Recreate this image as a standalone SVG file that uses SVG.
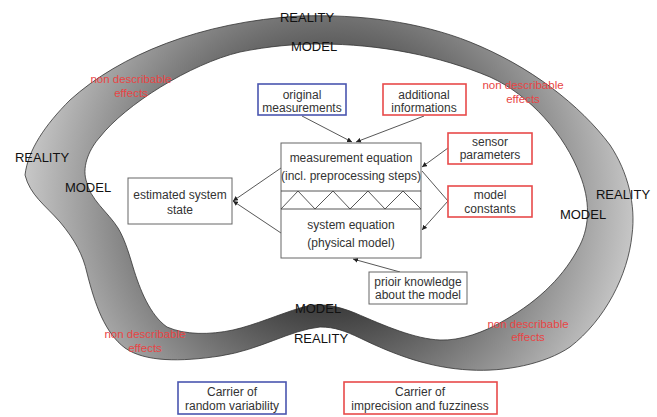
<svg xmlns="http://www.w3.org/2000/svg" width="657" height="417" viewBox="0 0 657 417">
  <style>
    text { font-family: "Liberation Sans", Arial, sans-serif; text-anchor: middle; }
    .lbl { font-size: 12px; fill: #333; }
    .big { font-size: 13px; fill: #111; }
    .red { font-size: 11.5px; fill: #e84545; }
    .box { fill: #fff; stroke: #666; stroke-width: 1; }
    .rbox { fill: #fff; stroke: #e84a4a; stroke-width: 1.6; }
    .bbox { fill: #fff; stroke: #4a56b0; stroke-width: 1.6; }
    .conn { stroke: #444; stroke-width: 0.9; fill: none; }
  </style>
  <defs>
    <radialGradient id="bandShade" gradientUnits="userSpaceOnUse" cx="330" cy="200" r="330">
      <stop offset="0.06" stop-color="#000"/>
      <stop offset="1" stop-color="#d8d8d8"/>
    </radialGradient>
    <marker id="head" markerWidth="5" markerHeight="5" refX="5" refY="2.5" orient="auto" markerUnits="userSpaceOnUse">
      <path d="M0,0 L5,2.5 L0,5 Z" fill="#222"/>
    </marker>
  </defs>

  <rect width="657" height="417" fill="#fff"/>

  <!-- band separating model from reality: outer and inner outlines, even-odd filled -->
  <g id="band">
    <path fill="url(#bandShade)" fill-rule="evenodd" stroke="#333" stroke-width="0.8"
      d="M300,16 C360,14 420,22 470,42 C530,66 580,105 610,145 C628,172 636,205 632,235 C628,275 605,320 570,347 C545,364 505,372 470,370 C430,368 395,355 360,338 C345,331 335,327 320,327 C290,330 260,350 220,356 C180,362 145,362 125,348 C105,333 95,305 87,273 C83,255 75,240 60,222 C45,205 30,195 25,175 C28,150 45,125 70,100 C120,55 200,22 300,16 Z
         M320,44 C380,44 440,56 490,77 C530,95 565,135 580,175 C590,200 590,225 580,245 C565,275 540,300 505,320 C485,332 460,341 440,340 C415,339 385,326 355,313 C335,305 318,302 300,308 C280,314 255,325 233,330 C210,335 185,335 167,327 C150,315 140,290 133,267 C128,250 124,238 118,228 C108,212 90,200 86,180 C82,165 90,148 100,137 C125,105 190,64 240,52 C270,46 295,44 320,44 Z"/>
  </g>

  <!-- band labels -->
  <g id="band-labels">
    <text class="big" x="307" y="22">REALITY</text>
    <text class="big" x="314" y="51">MODEL</text>
    <text class="big" x="42" y="162">REALITY</text>
    <text class="big" x="88" y="192">MODEL</text>
    <text class="big" x="623" y="199">REALITY</text>
    <text class="big" x="583" y="219">MODEL</text>
    <text class="big" x="318" y="313">MODEL</text>
    <text class="big" x="321" y="343">REALITY</text>
    <text class="red" x="131" y="83">non describable</text>
    <text class="red" x="131" y="97">effects</text>
    <text class="red" x="523" y="89">non describable</text>
    <text class="red" x="523" y="103">effects</text>
    <text class="red" x="145" y="338">non describable</text>
    <text class="red" x="145" y="352">effects</text>
    <text class="red" x="528" y="328">non describable</text>
    <text class="red" x="528" y="341">effects</text>
  </g>

  <!-- connectors -->
  <g id="connectors">
    <line class="conn" x1="302" y1="116" x2="352" y2="142" marker-end="url(#head)"/>
    <line class="conn" x1="424" y1="116" x2="356" y2="142" marker-end="url(#head)"/>
    <line class="conn" x1="448" y1="148" x2="422" y2="167" marker-end="url(#head)"/>
    <line class="conn" x1="448" y1="201" x2="422" y2="171"/>
    <line class="conn" x1="448" y1="201" x2="422" y2="230" marker-end="url(#head)"/>
    <line class="conn" x1="281" y1="168" x2="233" y2="201" marker-end="url(#head)"/>
    <line class="conn" x1="281" y1="233" x2="233" y2="201" marker-end="url(#head)"/>
    <line class="conn" x1="400" y1="272" x2="353" y2="259" marker-end="url(#head)"/>
  </g>

  <g id="original-measurements">
    <rect class="bbox" x="258" y="84" width="88" height="31"/>
    <text class="lbl" x="302" y="99">original</text>
    <text class="lbl" x="302" y="112">measurements</text>
  </g>

  <g id="additional-informations">
    <rect class="rbox" x="383" y="84" width="83" height="31"/>
    <text class="lbl" x="424" y="99">additional</text>
    <text class="lbl" x="424" y="112">informations</text>
  </g>

  <g id="equations">
    <rect class="box" x="281" y="143" width="140" height="115"/>
    <line class="conn" x1="281" y1="191" x2="421" y2="191"/>
    <line class="conn" x1="281" y1="209" x2="421" y2="209"/>
    <polyline class="conn" points="281,209 298,191 315,209 333,191 350,209 368,191 385,209 403,191 421,209"/>
    <text class="lbl" x="351" y="162">measurement equation</text>
    <text class="lbl" x="351" y="180">(incl. preprocessing steps)</text>
    <text class="lbl" x="351" y="229">system equation</text>
    <text class="lbl" x="351" y="247">(physical model)</text>
  </g>

  <g id="estimated-state">
    <rect class="box" x="128" y="178" width="104" height="46"/>
    <text class="lbl" x="180" y="199">estimated system</text>
    <text class="lbl" x="180" y="214">state</text>
  </g>

  <g id="sensor-parameters">
    <rect class="rbox" x="448" y="133" width="84" height="31"/>
    <text class="lbl" x="490" y="146">sensor</text>
    <text class="lbl" x="490" y="159">parameters</text>
  </g>

  <g id="model-constants">
    <rect class="rbox" x="448" y="186" width="84" height="31"/>
    <text class="lbl" x="490" y="199">model</text>
    <text class="lbl" x="490" y="213">constants</text>
  </g>

  <g id="prior-knowledge">
    <rect class="box" x="369" y="272" width="98" height="32"/>
    <text class="lbl" x="418" y="286">prioir knowledge</text>
    <text class="lbl" x="418" y="299">about the model</text>
  </g>

  <g id="random-variability">
    <rect class="bbox" x="178" y="382" width="108" height="32"/>
    <text class="lbl" x="232" y="396">Carrier of</text>
    <text class="lbl" x="232" y="410">random variability</text>
  </g>

  <g id="imprecision-fuzziness">
    <rect class="rbox" x="344" y="382" width="153" height="32"/>
    <text class="lbl" x="420" y="396">Carrier of</text>
    <text class="lbl" x="420" y="410">imprecision and fuzziness</text>
  </g>
</svg>
